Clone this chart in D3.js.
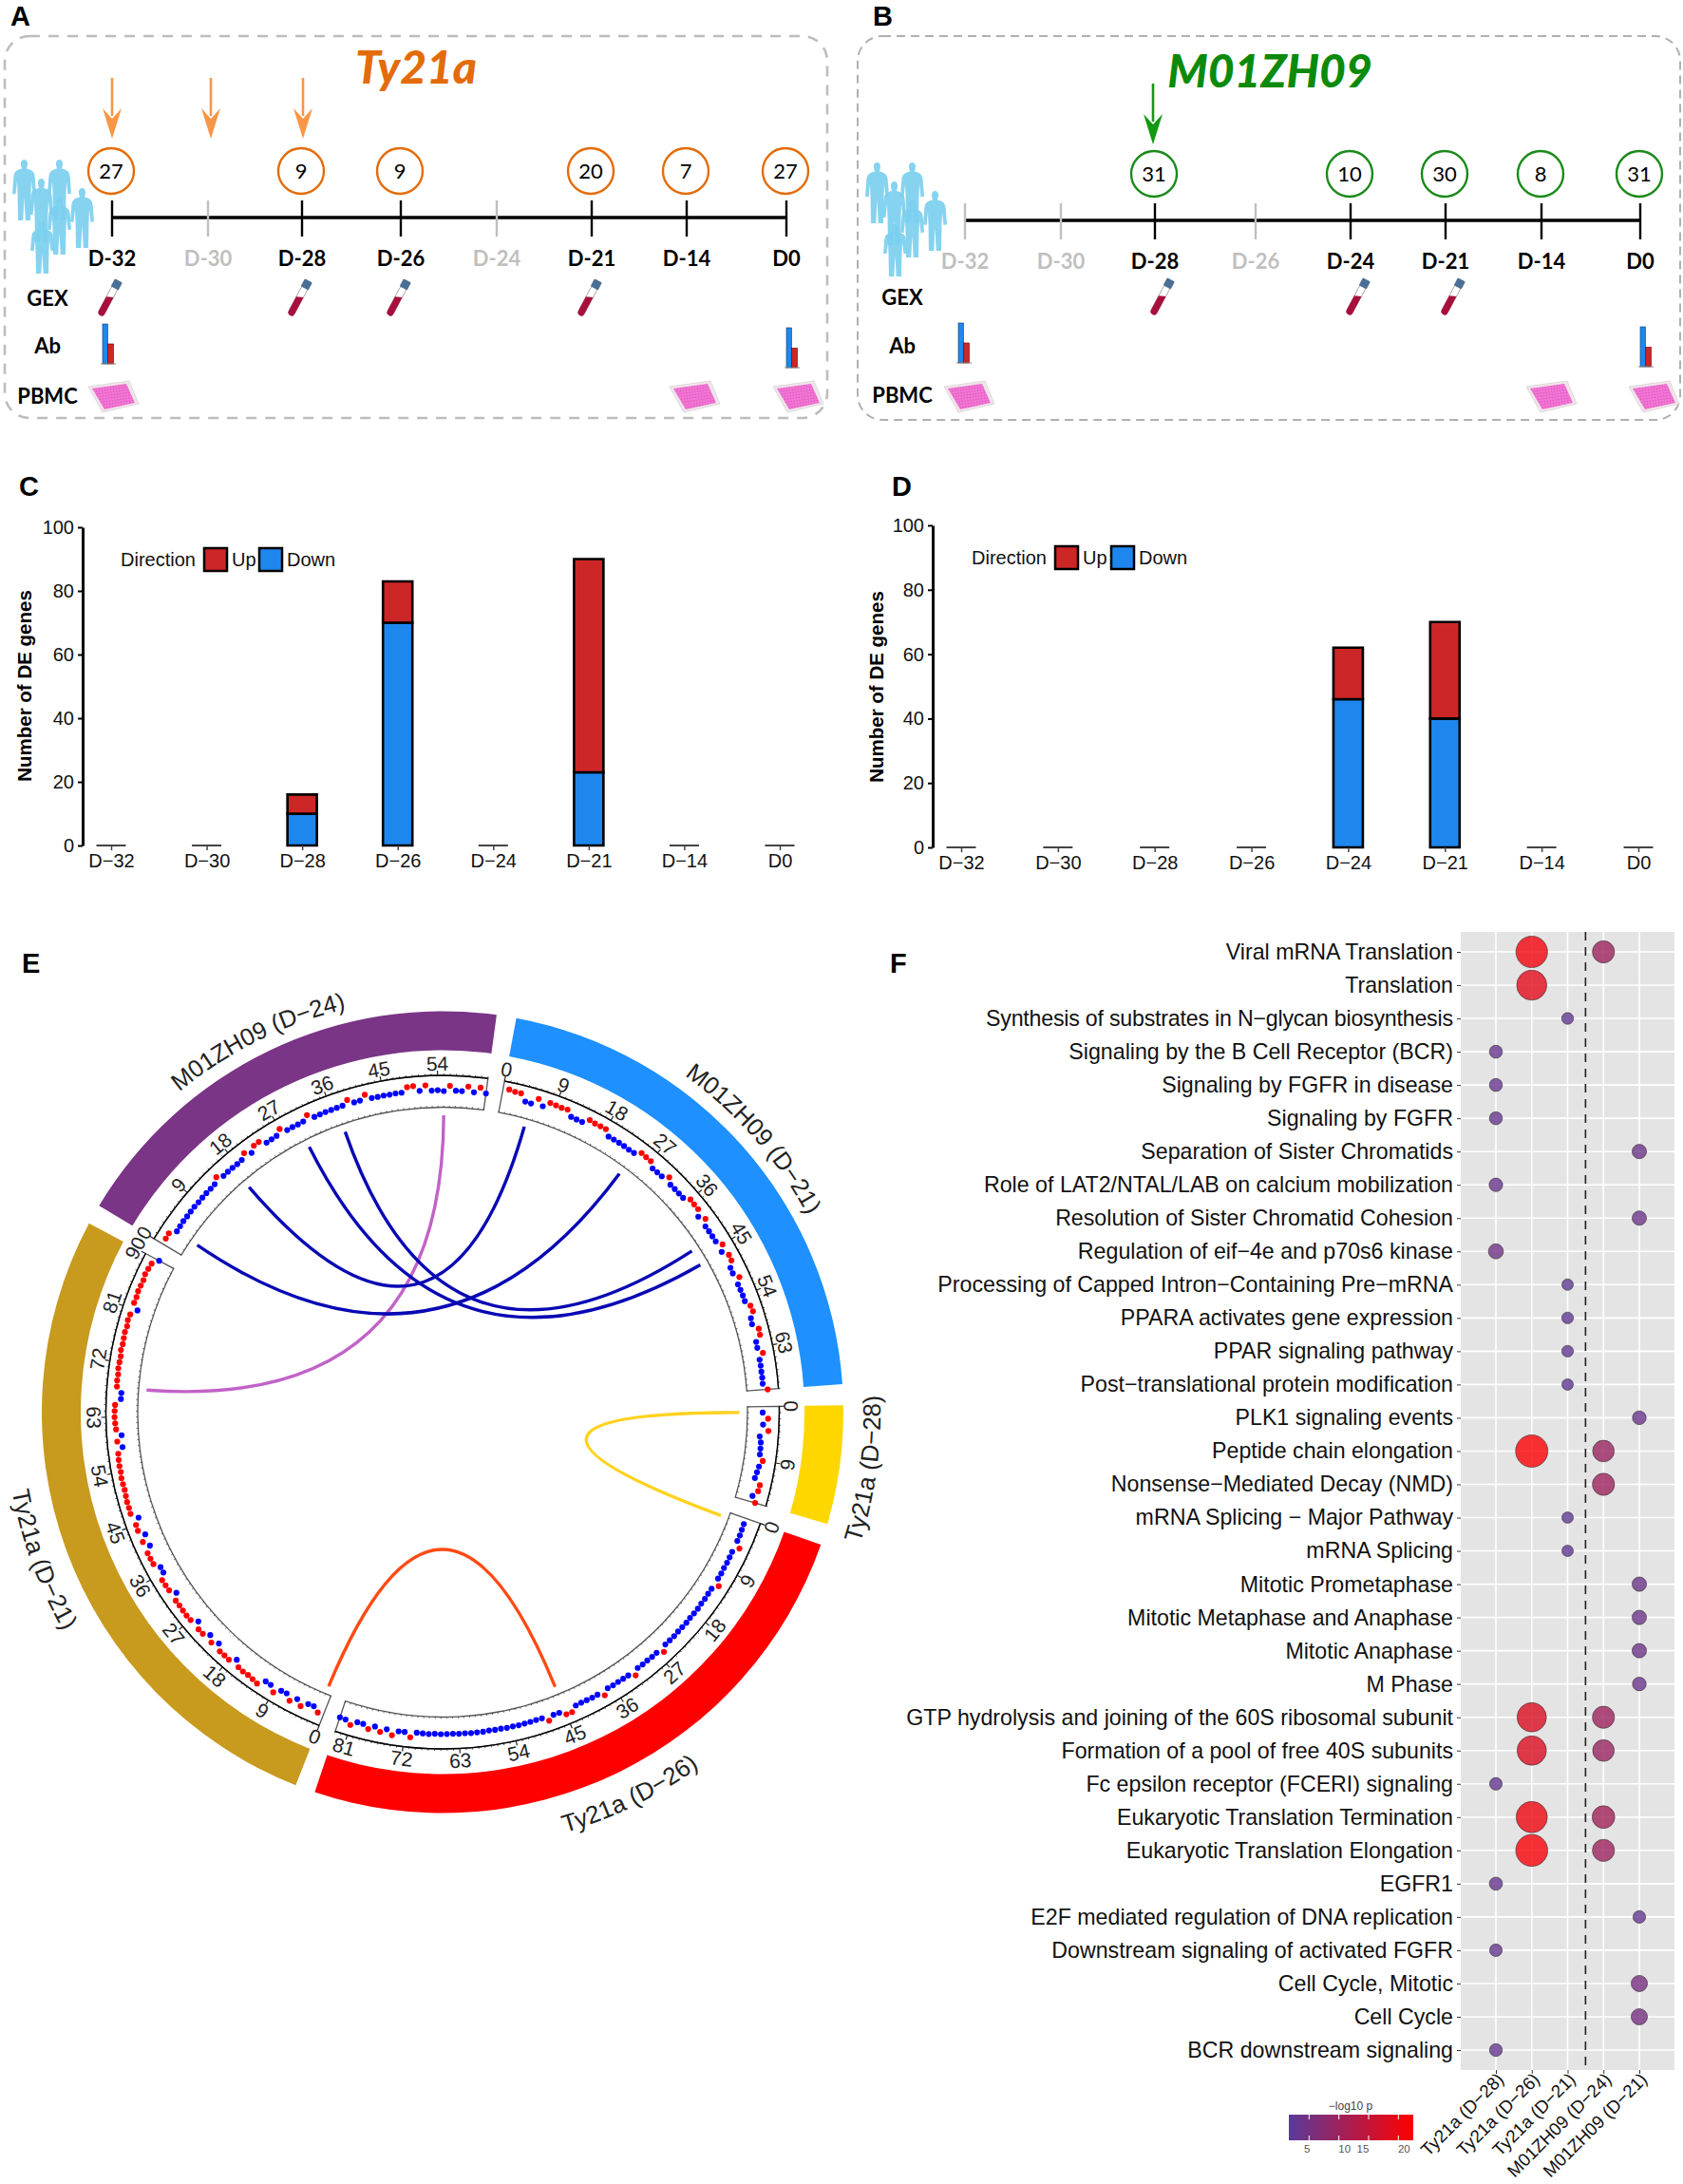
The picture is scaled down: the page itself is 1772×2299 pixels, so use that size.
<!DOCTYPE html>
<html><head><meta charset="utf-8">
<script src="https://cdn.jsdelivr.net/npm/d3@7"></script>
<style>html,body{margin:0;padding:0;background:#fff}svg{display:block}text{font-family:"Liberation Sans",Arial,sans-serif}</style>
</head><body><svg id="c" width="1772" height="2299"></svg>
<script>
// ---------- data ----------
const scheduleDays = ["D-32","D-30","D-28","D-26","D-24","D-21","D-14","D0"];
const activeA = ["D-32","D-28","D-26","D-21","D-14","D0"];
const activeB = ["D-28","D-24","D-21","D-14","D0"];
const countsADays = ["D-32","D-28","D-26","D-21","D-14","D0"];
const countsA = [27,9,9,20,7,27];
const countsBDays = ["D-28","D-24","D-21","D-14","D0"];
const countsB = [31,10,30,8,31];
const doseA = ["D-32","D-30","D-28"];
const doseB = ["D-28"];
const gexA = ["D-32","D-28","D-26","D-21"];
const gexB = ["D-28","D-24","D-21"];
const abDaysA = ["D-32","D0"];
const abDaysB = ["D-32","D0"];
const abBlue = [100,100];
const abRed = [50,49];
const pbmcDays = ["D-32","D-14","D0"];

const deDays = ["D\u221232","D\u221230","D\u221228","D\u221226","D\u221224","D\u221221","D\u221214","D0"];
const downC = [0,0,10,70,0,23,0,0];
const upC   = [0,0,6,13,0,67,0,0];
const downD = [0,0,0,0,46,40,0,0];
const upD   = [0,0,0,0,16,30,0,0];
const yTicks = [0,20,40,60,80,100];

const sectorNames = ["M01ZH09 (D\u221221)","Ty21a (D\u221228)","Ty21a (D\u221226)","Ty21a (D\u221221)","M01ZH09 (D\u221224)"];
const sectorColors = ["#1E90FF","#FFD700","#FF0000","#C89A1E","#7A3586"];
const sectorStartDeg = [10.6,89,109.3,201.5,301];
const sectorEndDeg = [86,106.2,198.6,298.1,367.75];
const valsBlue = [53,47,46,2,0,42,5,40,38,36,40,6,5,6,38,34,35,36,4,5,6,6,5,7,36,33,32,4,5,6,34,5,6,6,7,35,33,34,5,33,5,6,6,7,34,5,36,33,6,4,32,5,6,7,6,30,34,8,4,38,36,2,1,30,2,3,2,3,2,31];
const valsYellow = [-6,29,-2,34,-19,-9,-7,-6,18,0,-6,-12,29,27,0,28];
const valsRed = [2,3,5,4,36,3,4,5,4,6,5,34,5,4,6,5,7,6,5,7,6,5,7,6,5,33,6,7,5,6,4,34,7,6,5,6,4,33,7,8,6,5,7,36,35,9,8,34,5,4,5,6,7,6,7,5,6,4,7,6,7,5,6,4,5,6,4,7,5,3,36,6,7,38,6,30,3,28,4,3,32,8,6];
const valsGold = [27,0,2,34,4,36,3,6,40,8,7,49,42,38,40,36,6,38,36,37,5,34,6,35,36,4,36,38,37,35,36,4,34,36,38,6,5,36,37,38,4,36,3,38,36,5,46,44,45,42,40,42,44,40,42,41,38,6,36,5,38,42,45,44,42,6,5,36,38,36,40,38,36,42,38,40,42,38,44,40,4,40,38,42,40,38,44,40,36,2];
const valsPurple = [36,38,2,4,6,5,6,7,5,6,7,6,8,33,7,8,7,6,8,34,6,35,37,5,6,8,36,6,7,6,8,35,5,6,7,6,7,8,34,7,8,36,6,5,6,5,7,6,37,40,6,39,4,6,0,34,4,3,35,2,36,3];
const linkDarkBlue = [[4,3,0,24.1],[4,17,0,5],[4,30,0,46.1],[4,37,0,43.2]];
const linkPurple = [[4,55,3,67.8]];
const linkYellow = [[1,1,2,1]];
const linkOrange = [[2,45,3,1]];

const pathways = ["Viral mRNA Translation","Translation","Synthesis of substrates in N\u2212glycan biosynthesis","Signaling by the B Cell Receptor (BCR)","Signaling by FGFR in disease","Signaling by FGFR","Separation of Sister Chromatids","Role of LAT2/NTAL/LAB on calcium mobilization","Resolution of Sister Chromatid Cohesion","Regulation of eif\u22124e and p70s6 kinase","Processing of Capped Intron\u2212Containing Pre\u2212mRNA","PPARA activates gene expression","PPAR signaling pathway","Post\u2212translational protein modification","PLK1 signaling events","Peptide chain elongation","Nonsense\u2212Mediated Decay (NMD)","mRNA Splicing \u2212 Major Pathway","mRNA Splicing","Mitotic Prometaphase","Mitotic Metaphase and Anaphase","Mitotic Anaphase","M Phase","GTP hydrolysis and joining of the 60S ribosomal subunit","Formation of a pool of free 40S subunits","Fc epsilon receptor (FCERI) signaling","Eukaryotic Translation Termination","Eukaryotic Translation Elongation","EGFR1","E2F mediated regulation of DNA replication","Downstream signaling of activated FGFR","Cell Cycle, Mitotic","Cell Cycle","BCR downstream signaling"];
const groups = ["Ty21a (D\u221228)","Ty21a (D\u221226)","Ty21a (D\u221221)","M01ZH09 (D\u221224)","M01ZH09 (D\u221221)"];
// per group: [pathway index, -log10 p]
const dotsT28 = [[3,3.2],[4,3.2],[5,3.2],[7,3.5],[9,4.4],[25,3],[28,3.3],[30,3],[33,3.1]];
const dotsT26 = [[0,21],[1,19],[15,22],[23,18],[24,18],[26,20.5],[27,21.5]];
const dotsT21 = [[2,2.6],[10,2.4],[11,2.5],[12,2.5],[13,2.4],[17,2.4],[18,2.4]];
const dotsM24 = [[0,10],[15,9.5],[16,10],[23,10],[24,9.5],[26,10.5],[27,10]];
const dotsM21 = [[6,4],[8,4],[14,3.6],[19,4],[20,4],[21,4],[22,3.6],[29,3],[31,5.2],[32,5.2]];
const legendTicks = [5,10,15,20];
const legendLabelShift = [-2,6,-6,6];

// ---------- helpers ----------
const svg = d3.select("#c");
const LATO = "Lato,'Liberation Sans',sans-serif";
const rad = d => d*Math.PI/180;

function letter(t,x,y){svg.append("text").text(t).attr("x",x).attr("y",y).attr("font-size",29).attr("font-weight",700);}
letter("A",11,27);letter("B",919,27);letter("C",20,522);letter("D",939,522);letter("E",23,1024);letter("F",937,1024);

const personPath = "M.5 0C.61 0 .67 .05 .63 .1L.6 .15C.84 .17 .93 .2 .95 .3L1 .56L.86 .57L.8 .36L.78 .56L.76 1L.55 1L.5 .62L.45 1L.24 1L.22 .56L.2 .36L.14 .57L0 .56L.05 .3C.07 .2 .16 .17 .4 .15L.37 .1C.33 .05 .39 0 .5 0Z";
const people = [[13,168,64],[50,168,64],[31,188,67],[74,198,63],[50,208,60],[32,233,55]];

function schedule(o){
  const g = svg.append("g");
  const x = d3.scaleOrdinal().domain(scheduleDays).range(o.stops);
  g.append("rect").attr("x",o.box[0]).attr("y",o.box[1]).attr("width",o.box[2]).attr("height",o.box[3]).attr("rx",26).attr("fill","none").attr("stroke",o.boxColor).attr("stroke-width",o.boxW).attr("stroke-dasharray",o.dash);
  g.append("text").text(o.title).attr("x",o.tx).attr("y",o.ty).attr("text-anchor","middle").attr("font-size",o.ts).attr("font-weight",900).attr("font-style","italic").attr("fill",o.tc).style("font-family",LATO);
  people.forEach(p=>g.append("path").attr("d",personPath).attr("transform",`translate(${p[0]+o.px},${p[1]+o.py}) scale(25,${p[2]})`).attr("fill","#7CCFEF").attr("fill-opacity",.92));
  g.append("line").attr("x1",o.stops[0]).attr("x2",o.stops[7]).attr("y1",o.ay).attr("y2",o.ay).attr("stroke","#000").attr("stroke-width",3.5);
  const act = d=>o.active.includes(d);
  g.selectAll("line.t").data(scheduleDays).join("line").attr("x1",d=>x(d)).attr("x2",d=>x(d)).attr("y1",o.ay-18).attr("y2",o.ay+20).attr("stroke",d=>act(d)?"#000":"#BFBFBF").attr("stroke-width",2.4);
  g.selectAll("text.t").data(scheduleDays).join("text").text(d=>d).attr("x",d=>x(d)).attr("y",o.ay+51).attr("text-anchor","middle").attr("font-size",22).attr("font-weight",700).attr("fill",d=>act(d)?"#000":"#BFBFBF").style("font-family",LATO);
  const cg = g.selectAll("g.c").data(o.cDays.map((d,i)=>[d,o.counts[i]])).join("g").attr("transform",d=>`translate(${x(d[0])-1},${o.cy})`);
  cg.append("circle").attr("r",24).attr("fill","#fff").attr("stroke",o.cc).attr("stroke-width",2.4);
  cg.append("text").text(d=>d[1]).attr("y",8).attr("text-anchor","middle").attr("font-size",22).style("font-family",LATO);
  // dose arrows
  o.dose.forEach((d,i)=>{const ax=x(d)+(o.doseShift[i]||0);
    g.append("line").attr("x1",ax).attr("x2",ax).attr("y1",o.ar0).attr("y2",o.ar0+40).attr("stroke",o.ac).attr("stroke-width",2.6);
    const yt=o.ar0+64;
    g.append("path").attr("d",`M${ax} ${yt}L${ax-10} ${yt-32}L${ax} ${yt-21}L${ax+10} ${yt-32}Z`).attr("fill",o.ac);
  });
  // side labels
  [["GEX",o.ly[0]],["Ab",o.ly[1]],["PBMC",o.ly[2]]].forEach(l=>g.append("text").text(l[0]).attr("x",o.lx).attr("y",l[1]+8).attr("text-anchor","middle").attr("font-size",22).attr("font-weight",700).style("font-family",LATO));
  // tubes
  o.gex.forEach(d=>{
    const t=g.append("g").attr("transform",`translate(${x(d)+o.tubeDx},${o.ly[0]}) rotate(28)`);
    t.append("rect").attr("x",-3.5).attr("y",-14).attr("width",7).attr("height",34).attr("rx",3.5).attr("fill","#fff").attr("stroke","#999").attr("stroke-width",.8);
    t.append("path").attr("d","M-3.5 0L3.5 -3L3.5 17A3.5 3.5 0 0 1 -3.5 17Z").attr("fill","#A80F3C");
    t.append("rect").attr("x",-4.5).attr("y",-21).attr("width",9).attr("height",9).attr("rx",1).attr("fill","#4B6F94");
  });
  // antibody bars
  const abH = d3.scaleLinear().domain([0,100]).range([0,42]);
  o.abDays.forEach((d,i)=>{
    const bx=x(d)+o.abDx[i], by=o.abBase[i];
    g.append("rect").attr("x",bx).attr("y",by-abH(abBlue[i])).attr("width",5.5).attr("height",abH(abBlue[i])).attr("fill","#1E87EE").attr("stroke","#123a66").attr("stroke-width",.6);
    g.append("rect").attr("x",bx+5.5).attr("y",by-abH(abRed[i])).attr("width",6).attr("height",abH(abRed[i])).attr("fill","#CD2626").attr("stroke","#600").attr("stroke-width",.6);
    g.append("line").attr("x1",bx-2).attr("x2",bx+14).attr("y1",by).attr("y2",by).attr("stroke","#888").attr("stroke-width",1);
  });
  // plates
  pbmcDays.forEach((d,i)=>{
    const pl=g.append("g").attr("transform",`translate(${x(d)+o.plDx[i]},417)`);
    pl.append("path").attr("d","M-26 -10L17 -16L27 8L-11 17Z").attr("fill","#EFE6EA").attr("stroke","#E2D6DC");
    pl.append("path").attr("d","M-22 -8L14 -13L23 7L-9 14Z").attr("fill","url(#wells)");
  });
}
const defs = svg.append("defs");
const wp = defs.append("pattern").attr("id","wells").attr("width",3).attr("height",3).attr("patternUnits","userSpaceOnUse").attr("patternTransform","rotate(-8)");
wp.append("rect").attr("width",3).attr("height",3).attr("fill","#F277D4");
wp.append("circle").attr("cx",1.5).attr("cy",1.5).attr("r",.8).attr("fill","#DF4FBE");

schedule({stops:[118,219,318,422,523,623,723,828],ay:229,cy:180,box:[5,38,866,402],boxColor:"#BDBDBD",boxW:2.6,dash:"11 9",title:"Ty21a",tx:438,ty:88,ts:48,tc:"#E36C0A",active:activeA,cDays:countsADays,counts:countsA,cc:"#E36C0A",dose:doseA,doseShift:[0,3,1],ar0:82,ac:"#F79646",ly:[314,364,417],lx:50,gex:gexA,tubeDx:-3,px:0,py:0,abDays:abDaysA,abDx:[-10,0],abBase:[383,387],plDx:[1,8,12]});
schedule({stops:[1016,1117,1216,1322,1422,1522,1623,1727],ay:232,cy:183,box:[903,38,866,404],boxColor:"#B0B0B0",boxW:2,dash:"9 6",title:"M01ZH09",tx:1337,ty:92,ts:48,tc:"#0B8A0B",active:activeB,cDays:countsBDays,counts:countsB,cc:"#1A8A1A",dose:doseB,doseShift:[-2],ar0:88,ac:"#119911",ly:[313,364,416],lx:950,gex:gexB,tubeDx:7,px:898,py:3,abDays:abDaysB,abDx:[-7,0],abBase:[382,386],plDx:[4,10,14]});

// ---------- bar panels ----------
function bars(o){
  const g=svg.append("g");
  const x=d3.scalePoint().domain(deDays).range(o.xr);
  const y=d3.scaleLinear().domain([0,100]).range(o.yr);
  const w=31;
  const seg=(d,a,b,fill)=>{const p=d3.path();const l=x(d)-w/2;p.moveTo(l,y(a));p.lineTo(l+w,y(a));p.lineTo(l+w,y(b));p.lineTo(l,y(b));p.closePath();
    return g.append("path").attr("d",p.toString()).attr("fill",fill).attr("stroke",(a===b)?"#444":"#000").attr("stroke-width",(a===b)?2:2.6);};
  deDays.forEach((d,i)=>{seg(d,0,o.down[i],"#1E87EE");if(o.up[i]>0)seg(d,o.down[i],o.down[i]+o.up[i],"#CD2626");});
  const ax=g.append("g").attr("transform",`translate(${o.ax},0)`).call(d3.axisLeft(y).tickValues(yTicks).tickSize(5).tickPadding(4).tickSizeOuter(0));
  ax.select(".domain").attr("stroke-width",3);ax.selectAll(".tick line").attr("stroke-width",2);ax.selectAll("text").attr("font-size",20).attr("fill","#111");
  const bx=g.append("g").attr("transform",`translate(0,${o.yr[0]})`).call(d3.axisBottom(x).tickSize(5).tickPadding(4));
  bx.select(".domain").remove();bx.selectAll(".tick line").attr("stroke","#444").attr("stroke-width",1.5);bx.selectAll("text").attr("font-size",20).attr("fill","#111");
  g.append("text").text("Number of DE genes").attr("transform",`translate(${o.ylx},${o.yly}) rotate(-90)`).attr("text-anchor","middle").attr("font-size",20.5).attr("font-weight",700);
  const L=o.leg;
  g.append("text").text("Direction").attr("x",L.x).attr("y",L.y+7).attr("font-size",20).attr("fill","#111");
  g.append("rect").attr("x",L.sw1).attr("y",L.y-12).attr("width",24).attr("height",24).attr("fill","#CD2626").attr("stroke","#000").attr("stroke-width",2.5);
  g.append("text").text("Up").attr("x",L.sw1+29).attr("y",L.y+7).attr("font-size",20).attr("fill","#111");
  g.append("rect").attr("x",L.sw2).attr("y",L.y-12).attr("width",24).attr("height",24).attr("fill","#1E87EE").attr("stroke","#000").attr("stroke-width",2.5);
  g.append("text").text("Down").attr("x",L.sw2+29).attr("y",L.y+7).attr("font-size",20).attr("fill","#111");
}
bars({xr:[117,821],yr:[890,555],down:downC,up:upC,ax:87,ylx:33,yly:722,leg:{x:127,y:589,sw1:215,sw2:273}});
bars({xr:[1012,1725],yr:[892,553],down:downD,up:upD,ax:982,ylx:930,yly:723,leg:{x:1023,y:587,sw1:1111,sw2:1170}});

// ---------- circos ----------
const CX=466, CY=1486.5;
const circ=svg.append("g").attr("transform",`translate(${CX},${CY})`);
const allVals=[valsBlue,valsYellow,valsRed,valsGold,valsPurple];
const labelShiftDeg=[0.4,0,0,0,-0.8];
const xDeg=sectorNames.map((n,i)=>d3.scaleLinear().domain([0,allVals[i].length]).range([sectorStartDeg[i],sectorEndDeg[i]]));
const rY=d3.scaleLinear().domain([-100,100]).range([321.5,354.5]);
const polar=(deg,r)=>[r*Math.sin(rad(deg)),-r*Math.cos(rad(deg))];
const arc=d3.arc();
sectorNames.forEach((n,i)=>{
  const s=rad(sectorStartDeg[i]),e=rad(sectorEndDeg[i]);
  circ.append("path").attr("d",arc({innerRadius:381,outerRadius:422,startAngle:s,endAngle:e})).attr("fill",sectorColors[i]);
  circ.append("path").attr("d",arc({innerRadius:321,outerRadius:354.5,startAngle:s,endAngle:e})).attr("fill","none").attr("stroke","#555").attr("stroke-width",1.3);
  circ.append("path").attr("d",arc({innerRadius:354.5,outerRadius:354.5,startAngle:s,endAngle:e})).attr("fill","none").attr("stroke","#000").attr("stroke-width",1.4);
  const sc=xDeg[i], N=allVals[i].length;
  d3.range(0,N+1,1).forEach(k=>{
    const a=sc(k), major=k%9===0;
    const p0=polar(a,354.5),p1=polar(a,354.5+(major?5:2));
    circ.append("line").attr("x1",p0[0]).attr("y1",p0[1]).attr("x2",p1[0]).attr("y2",p1[1]).attr("stroke","#222").attr("stroke-width",major?1.2:.8);
    const q0=polar(a,321),q1=polar(a,322.8);
    circ.append("line").attr("x1",q0[0]).attr("y1",q0[1]).attr("x2",q1[0]).attr("y2",q1[1]).attr("stroke","#333").attr("stroke-width",.7);
    if(major){
      const pt=polar(a,367),rot=(a%360>90&&a%360<270)?a-180:a;
      circ.append("text").text(k).attr("transform",`translate(${pt[0]},${pt[1]}) rotate(${rot})`).attr("text-anchor","middle").attr("dy","0.36em").attr("font-size",21).attr("fill","#222");
    }
  });
  // points
  allVals[i].forEach((v,k)=>{
    const p=polar(sc(k+1),rY(v));
    circ.append("circle").attr("cx",p[0]).attr("cy",p[1]).attr("r",3.1).attr("fill",v>=15?"#FF0000":"#0000FF");
  });
  // sector label
  const mid=(sectorStartDeg[i]+sectorEndDeg[i])/2+labelShiftDeg[i], m=mid%360, lower=(m>90&&m<270);
  const pth=d3.path(), R=lower?461:436.5, span=50;
  const a0=rad(mid-span-90),a1=rad(mid+span-90);
  if(lower){pth.moveTo(R*Math.cos(a1),R*Math.sin(a1));pth.arc(0,0,R,a1,a0,true);}
  else{pth.moveTo(R*Math.cos(a0),R*Math.sin(a0));pth.arc(0,0,R,a0,a1,false);}
  defs.append("path").attr("id","lab"+i).attr("d",pth.toString());
  circ.append("text").attr("font-size",lower?26:25.5).attr("fill","#222").append("textPath").attr("href","#lab"+i).attr("startOffset","50%").attr("text-anchor","middle").text(n);
});
function links(list,color){
  list.forEach(l=>{
    const p0=polar(xDeg[l[0]](l[1]),312.5),p1=polar(xDeg[l[2]](l[3]),312.5);
    const p=d3.path();p.moveTo(p0[0],p0[1]);p.quadraticCurveTo(0,0,p1[0],p1[1]);
    circ.append("path").attr("d",p.toString()).attr("fill","none").attr("stroke",color).attr("stroke-width",3.4);
  });
}
links(linkPurple,"#C262C8");links(linkDarkBlue,"#0808B4");links(linkYellow,"#FFD21F");links(linkOrange,"#FF4A14");

// ---------- dot plot ----------
const fg=svg.append("g");
const px0=1538,px1=1763,py0=981,py1=2179;
const fy=d3.scalePoint().domain(pathways).range([1002,2158]);
const fx=d3.scalePoint().domain(groups).range([1575,1726]);
fg.append("rect").attr("x",px0).attr("y",py0).attr("width",px1-px0).attr("height",py1-py0).attr("fill","#E4E4E4");
pathways.forEach(d=>fg.append("line").attr("x1",px0).attr("x2",px1).attr("y1",fy(d)).attr("y2",fy(d)).attr("stroke","#fff").attr("stroke-width",1.6));
groups.forEach(d=>fg.append("line").attr("x1",fx(d)).attr("x2",fx(d)).attr("y1",py0).attr("y2",py1).attr("stroke","#fff").attr("stroke-width",1.6));
const dashX=(fx(groups[2])+fx(groups[3]))/2;
fg.append("line").attr("x1",dashX).attr("x2",dashX).attr("y1",py0).attr("y2",py1).attr("stroke","#222").attr("stroke-width",1.6).attr("stroke-dasharray","9 7");
const colorP=d3.scaleLinear().domain([1.6,22.5]).range(["#5A3A9A","#FF0000"]);
const sizeP=d3.scaleSqrt().domain([2.4,22]).range([6,17]);
[dotsT28,dotsT26,dotsT21,dotsM24,dotsM21].forEach((ds,gi)=>{
  fg.selectAll(null).data(ds).join("circle").attr("cx",fx(groups[gi])).attr("cy",d=>fy(pathways[d[0]])).attr("r",d=>sizeP(d[1])).attr("fill",d=>colorP(d[1])).attr("fill-opacity",.8).attr("stroke","#333").attr("stroke-opacity",.6).attr("stroke-width",1);
});
const fl=fg.append("g").attr("transform",`translate(${px0},0)`).call(d3.axisLeft(fy).tickSize(4).tickPadding(4));
fl.select(".domain").remove();fl.selectAll(".tick line").attr("stroke","#333");fl.selectAll("text").attr("font-size",23.2).attr("fill","#111");
fl.selectAll("text").filter(d=>d.startsWith("Synthesis")).attr("textLength",492);
const fb=fg.append("g").attr("transform",`translate(0,${py1})`).call(d3.axisBottom(fx).tickSize(4).tickPadding(4));
fb.select(".domain").remove();fb.selectAll(".tick line").attr("stroke","#333");
fb.selectAll("text").attr("font-size",18.8).attr("fill","#111").attr("text-anchor","end").attr("transform","translate(-6,-4) rotate(-45)").attr("dy","0.7em");
// legend
const grad=defs.append("linearGradient").attr("id","lg");
grad.append("stop").attr("offset","0%").attr("stop-color","#5A3A9A");grad.append("stop").attr("offset","100%").attr("stop-color","#FF0000");
const lx=d3.scaleLinear().domain([1.6,22.5]).range([1357,1488]);
fg.append("rect").attr("x",1357).attr("y",2226).attr("width",131).attr("height",27).attr("fill","url(#lg)");
legendTicks.forEach((t,i)=>{
  fg.append("line").attr("x1",lx(t)).attr("x2",lx(t)).attr("y1",2226).attr("y2",2231).attr("stroke","#fff");
  fg.append("line").attr("x1",lx(t)).attr("x2",lx(t)).attr("y1",2248).attr("y2",2253).attr("stroke","#fff");
  fg.append("text").text(t).attr("x",lx(t)+legendLabelShift[i]).attr("y",2266).attr("text-anchor","middle").attr("font-size",11.5).attr("fill","#555");
});
fg.append("text").text("\u2212log10 p").attr("x",1422).attr("y",2221).attr("text-anchor","middle").attr("font-size",12).attr("fill","#444");
</script></body></html>
